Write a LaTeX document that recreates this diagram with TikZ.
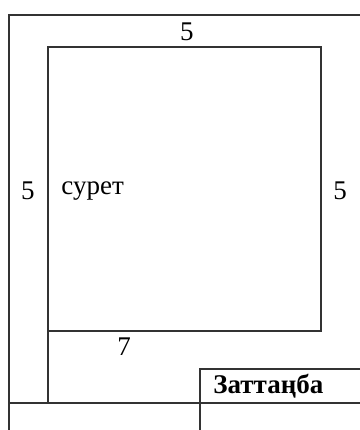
\documentclass[tikz,border=0pt]{standalone}
\usepackage{fontspec}
\setmainfont{Liberation Serif}
\usetikzlibrary{positioning}
\tikzset{
  frame/.style={draw=black!80, line width=0.6pt},
  size label/.style={font=\fontsize{13.5}{16}\selectfont, inner sep=1pt},
  tag label/.style={font=\fontsize{13.5}{16}\selectfont\bfseries, inner sep=1pt, anchor=west}
}

\begin{document}
\begin{tikzpicture}[x=0.5pt,y=-0.5pt]
\useasboundingbox (0,0) rectangle (360,430);
% page edges
\coordinate (pagetl) at (9,15);
\coordinate (pagetr) at (360,15);
\coordinate (pagebl) at (9,430);
% picture box
\coordinate (boxtl) at (48,47);
\coordinate (boxbr) at (321,331);
\coordinate (boxfoot) at (48,403);
% tag block
\coordinate (tagtl) at (200,369);
\coordinate (tagtr) at (360,369);
\coordinate (tagbl) at (200,430);
\coordinate (rowl) at (9,403);
\coordinate (rowr) at (360,403);

\draw[frame] (pagebl) -- (pagetl) -- (pagetr);
\draw[frame] (boxtl) rectangle (boxbr);
\draw[frame] (boxtl) -- (boxfoot);
\draw[frame] (tagbl) -- (tagtl) -- (tagtr);
\draw[frame] (rowl) -- (rowr);

\node[size label] (top5) at (187,32) {5};
\node[size label] (left5) at (28,191) {5};
\node[size label, anchor=west] (pic) at (59,191) {сурет};
\node[size label] (right5) at (340,191) {5};
\node[size label] (foot7) at (124,347) {7};
\node[tag label] (tag) at (211,386) {Заттаңба};
\end{tikzpicture}
\end{document}
